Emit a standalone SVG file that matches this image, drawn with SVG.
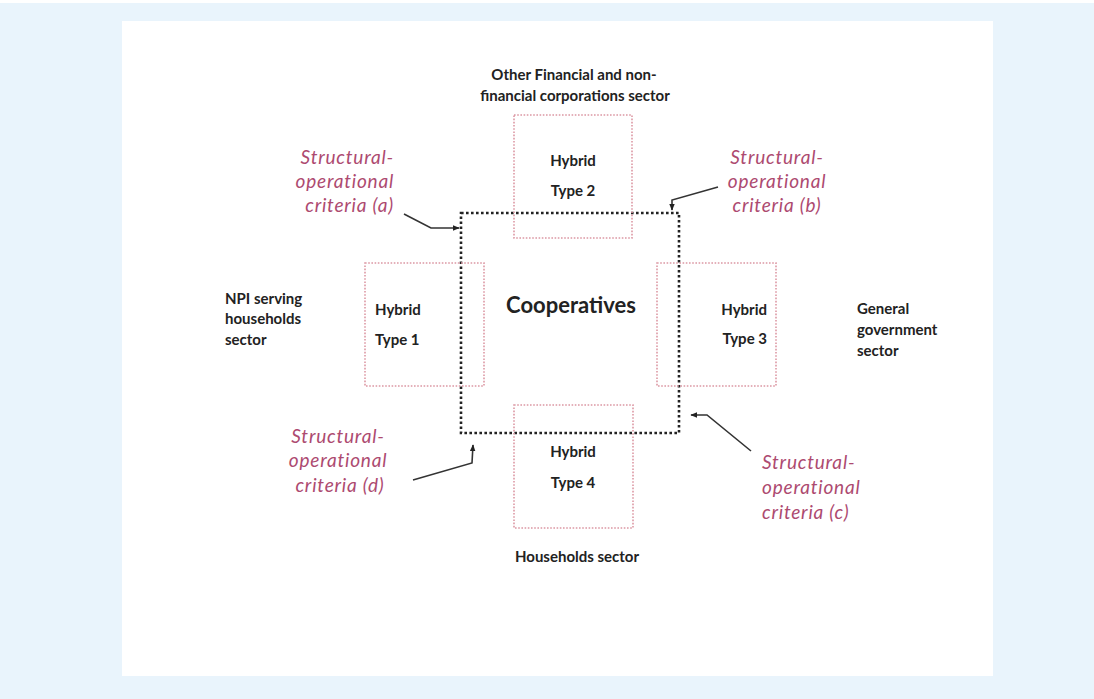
<svg xmlns="http://www.w3.org/2000/svg" width="1094" height="699" viewBox="0 0 1094 699">
<style>
.lbl{font-family:Lato,"Liberation Sans",sans-serif;font-weight:bold;font-size:15px;fill:#222}
.crit{font-family:Lato,"Liberation Sans",sans-serif;font-style:italic;font-size:19px;letter-spacing:0.8px;fill:#ad4a70}
.hyb{fill:none;stroke:#dc98a4;stroke-width:1.6;stroke-dasharray:1.6 1.6}
.coop{fill:none;stroke:#222;stroke-width:2.6;stroke-dasharray:2.6 2.4}
.conn{fill:none;stroke:#333;stroke-width:1.6}
</style>
<defs>
<marker id="ah" viewBox="0 0 10 10" refX="9" refY="5" markerWidth="7" markerHeight="7" orient="auto" markerUnits="userSpaceOnUse">
<path d="M0,1 L10,5 L0,9 z" fill="#222"/>
</marker>
</defs>
<rect x="0" y="0" width="1094" height="699" fill="#ffffff"/>
<rect x="0" y="3" width="1094" height="696" fill="#e9f4fc"/>
<rect x="122" y="21" width="871" height="655" fill="#ffffff"/>

<g id="cooperatives">
<rect class="coop" x="461" y="213" width="218" height="220"/>
<text class="lbl" x="571" y="313" text-anchor="middle" style="font-size:22px">Cooperatives</text>
</g>

<g id="hybrid-type-2">
<rect class="hyb" x="514" y="115" width="118" height="123"/>
<text class="lbl" x="573" y="166" text-anchor="middle">Hybrid</text>
<text class="lbl" x="573" y="196" text-anchor="middle">Type 2</text>
</g>
<g id="hybrid-type-1">
<rect class="hyb" x="365" y="263" width="119" height="123"/>
<text class="lbl" x="375" y="315" >Hybrid</text>
<text class="lbl" x="375" y="345">Type 1</text>
</g>
<g id="hybrid-type-3">
<rect class="hyb" x="657" y="263" width="119" height="123"/>
<text class="lbl" x="767" y="315" text-anchor="end">Hybrid</text>
<text class="lbl" x="767" y="344" text-anchor="end">Type 3</text>
</g>
<g id="hybrid-type-4">
<rect class="hyb" x="514" y="405" width="119" height="123"/>
<text class="lbl" x="573" y="457" text-anchor="middle">Hybrid</text>
<text class="lbl" x="573" y="488" text-anchor="middle">Type 4</text>
</g>

<g id="sector-financial">
<text class="lbl" x="574" y="80" text-anchor="middle">Other Financial and non-</text>
<text class="lbl" x="575" y="101" text-anchor="middle">financial corporations sector</text>
</g>
<g id="sector-npi">
<text class="lbl" x="225" y="304">NPI serving</text>
<text class="lbl" x="225" y="324">households</text>
<text class="lbl" x="225" y="345">sector</text>
</g>
<g id="sector-government">
<text class="lbl" x="857" y="314">General</text>
<text class="lbl" x="857" y="335">government</text>
<text class="lbl" x="857" y="356">sector</text>
</g>
<g id="sector-households">
<text class="lbl" x="577" y="562" text-anchor="middle">Households sector</text>
</g>

<g id="criteria-a">
<text class="crit" x="394" y="164" text-anchor="end">Structural-</text>
<text class="crit" x="394" y="188" text-anchor="end">operational</text>
<text class="crit" x="394" y="212" text-anchor="end">criteria (a)</text>
</g>
<g id="criteria-b">
<text class="crit" x="777" y="164" text-anchor="middle">Structural-</text>
<text class="crit" x="777" y="188" text-anchor="middle">operational</text>
<text class="crit" x="777" y="212" text-anchor="middle">criteria (b)</text>
</g>
<g id="criteria-c">
<text class="crit" x="762" y="469">Structural-</text>
<text class="crit" x="762" y="494">operational</text>
<text class="crit" x="762" y="519">criteria (c)</text>
</g>
<g id="criteria-d">
<text class="crit" x="338" y="443" text-anchor="middle">Structural-</text>
<text class="crit" x="338" y="467" text-anchor="middle">operational</text>
<text class="crit" x="340" y="492" text-anchor="middle">criteria (d)</text>
</g>

<g id="connectors">
<polyline class="conn" points="404,214 431,228 459,228" marker-end="url(#ah)"/>
<polyline class="conn" points="718,187 672,200 672,210" marker-end="url(#ah)"/>
<polyline class="conn" points="751,451 707,415 691,415" marker-end="url(#ah)"/>
<polyline class="conn" points="413,480 472,463 473,445" marker-end="url(#ah)"/>
</g>
</svg>
